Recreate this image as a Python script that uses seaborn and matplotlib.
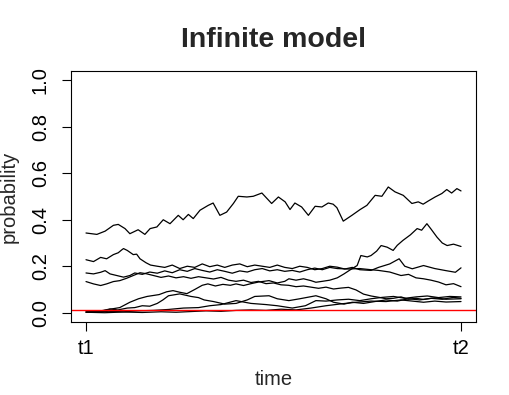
import pandas as pd
import matplotlib
matplotlib.use("Agg")
import matplotlib.pyplot as plt
import seaborn as sns

# time runs from t1 (0) to t2 (1)
time_a = [0.000, 0.029, 0.051, 0.073, 0.086, 0.104, 0.117, 0.139, 0.157, 0.171,
          0.189, 0.206, 0.224, 0.246, 0.259, 0.273, 0.286, 0.304, 0.326, 0.339,
          0.357, 0.375, 0.393, 0.406, 0.429, 0.446, 0.469, 0.495, 0.513, 0.531,
          0.544, 0.557, 0.575, 0.593, 0.611, 0.629, 0.646, 0.659, 0.669, 0.686,
          0.709, 0.731, 0.749, 0.771, 0.789, 0.806, 0.824, 0.846, 0.869, 0.886,
          0.899, 0.913, 0.931, 0.949, 0.962, 0.975, 0.989, 1.000]
prob_a = [0.343, 0.337, 0.351, 0.376, 0.380, 0.362, 0.340, 0.357, 0.337, 0.362,
          0.369, 0.400, 0.383, 0.419, 0.400, 0.423, 0.405, 0.441, 0.462, 0.472,
          0.419, 0.433, 0.470, 0.501, 0.498, 0.501, 0.515, 0.470, 0.498, 0.477,
          0.444, 0.472, 0.455, 0.419, 0.458, 0.455, 0.472, 0.467, 0.452, 0.394,
          0.419, 0.444, 0.462, 0.505, 0.501, 0.541, 0.520, 0.505, 0.470, 0.477,
          0.467, 0.481, 0.498, 0.513, 0.530, 0.515, 0.534, 0.524]

time_b = [0.000, 0.020, 0.039, 0.055, 0.073, 0.086, 0.095, 0.100, 0.110, 0.126,
          0.135, 0.144, 0.160, 0.172, 0.190, 0.210, 0.230, 0.250, 0.270, 0.290,
          0.310, 0.330, 0.350, 0.370, 0.390, 0.410, 0.430, 0.450, 0.470, 0.490,
          0.510, 0.530, 0.550, 0.570, 0.590, 0.610, 0.630, 0.650, 0.670, 0.690,
          0.710, 0.730, 0.760, 0.780, 0.810, 0.835, 0.850, 0.870, 0.900, 0.930,
          0.960, 0.985, 1.000]
prob_b = [0.228, 0.220, 0.238, 0.232, 0.250, 0.258, 0.270, 0.276, 0.268, 0.250,
          0.252, 0.232, 0.215, 0.205, 0.200, 0.195, 0.205, 0.190, 0.200, 0.195,
          0.210, 0.198, 0.205, 0.195, 0.205, 0.210, 0.198, 0.205, 0.200, 0.195,
          0.205, 0.195, 0.190, 0.200, 0.195, 0.185, 0.190, 0.200, 0.196, 0.188,
          0.195, 0.185, 0.182, 0.195, 0.210, 0.232, 0.200, 0.189, 0.203, 0.190,
          0.181, 0.174, 0.193]

time_c = [0.000, 0.020, 0.039, 0.051, 0.064, 0.082, 0.100, 0.117, 0.130, 0.150,
          0.170, 0.190, 0.210, 0.230, 0.250, 0.270, 0.290, 0.310, 0.330, 0.350,
          0.370, 0.390, 0.410, 0.430, 0.450, 0.470, 0.490, 0.510, 0.530, 0.550,
          0.570, 0.590, 0.610, 0.630, 0.650, 0.670, 0.700, 0.730, 0.760, 0.780,
          0.810, 0.840, 0.860, 0.880, 0.900, 0.920, 0.940, 0.960, 0.980, 1.000]
prob_c = [0.171, 0.167, 0.174, 0.181, 0.167, 0.160, 0.153, 0.160, 0.171, 0.165,
          0.175, 0.170, 0.180, 0.172, 0.185, 0.178, 0.190, 0.182, 0.175, 0.185,
          0.178, 0.170, 0.180, 0.175, 0.185, 0.190, 0.180, 0.185, 0.178, 0.182,
          0.175, 0.185, 0.192, 0.185, 0.195, 0.190, 0.188, 0.190, 0.185, 0.182,
          0.175, 0.160, 0.165, 0.150, 0.146, 0.140, 0.132, 0.120, 0.125, 0.112]

time_d = [0.000, 0.020, 0.039, 0.055, 0.073, 0.090, 0.108, 0.126, 0.144, 0.160,
          0.180, 0.200, 0.220, 0.240, 0.260, 0.280, 0.300, 0.320, 0.340, 0.360,
          0.380, 0.400, 0.420, 0.440, 0.460, 0.480, 0.500, 0.520, 0.540, 0.560,
          0.580, 0.600, 0.620, 0.640, 0.660, 0.680, 0.700, 0.720, 0.740, 0.760,
          0.785, 0.800, 0.820, 0.840, 0.860, 0.880, 0.900, 0.930, 0.960, 1.000]
prob_d = [0.134, 0.124, 0.117, 0.124, 0.134, 0.138, 0.148, 0.160, 0.172, 0.168,
          0.160, 0.152, 0.158, 0.150, 0.155, 0.148, 0.155, 0.150, 0.145, 0.152,
          0.140, 0.135, 0.140, 0.130, 0.135, 0.125, 0.128, 0.120, 0.118, 0.112,
          0.115, 0.110, 0.105, 0.110, 0.102, 0.106, 0.109, 0.098, 0.080, 0.072,
          0.065, 0.060, 0.062, 0.068, 0.058, 0.062, 0.057, 0.064, 0.058, 0.060]

time_e = [0.000, 0.037, 0.064, 0.090, 0.117, 0.140, 0.163, 0.195, 0.215, 0.232,
          0.250, 0.269, 0.290, 0.310, 0.325, 0.345, 0.365, 0.385, 0.400, 0.420,
          0.440, 0.460, 0.488, 0.510, 0.530, 0.541, 0.560, 0.580, 0.600, 0.613,
          0.630, 0.650, 0.670, 0.688, 0.705, 0.723, 0.733, 0.750, 0.760, 0.775,
          0.787, 0.803, 0.819, 0.830, 0.845, 0.865, 0.883, 0.895, 0.909, 0.920,
          0.936, 0.950, 0.963, 0.980, 1.000]
prob_e = [0.002, 0.005, 0.015, 0.022, 0.045, 0.060, 0.070, 0.078, 0.090, 0.095,
          0.088, 0.082, 0.100, 0.118, 0.124, 0.115, 0.122, 0.118, 0.124, 0.117,
          0.125, 0.132, 0.138, 0.128, 0.135, 0.146, 0.140, 0.146, 0.138, 0.131,
          0.135, 0.140, 0.150, 0.167, 0.185, 0.203, 0.246, 0.240, 0.246, 0.265,
          0.289, 0.282, 0.268, 0.290, 0.311, 0.335, 0.362, 0.355, 0.383, 0.360,
          0.325, 0.300, 0.289, 0.295, 0.285]

time_f = [0.000, 0.040, 0.064, 0.085, 0.110, 0.130, 0.150, 0.170, 0.190, 0.205,
          0.220, 0.250, 0.280, 0.300, 0.315, 0.340, 0.370, 0.400, 0.430, 0.450,
          0.488, 0.510, 0.541, 0.570, 0.613, 0.640, 0.660, 0.688, 0.710, 0.740,
          0.770, 0.800, 0.830, 0.860, 0.890, 0.920, 0.950, 0.980, 1.000]
prob_f = [0.004, 0.008, 0.016, 0.012, 0.020, 0.022, 0.030, 0.028, 0.040, 0.055,
          0.073, 0.081, 0.070, 0.065, 0.055, 0.048, 0.037, 0.040, 0.055, 0.070,
          0.073, 0.060, 0.052, 0.060, 0.073, 0.060, 0.045, 0.037, 0.045, 0.040,
          0.048, 0.055, 0.050, 0.060, 0.055, 0.062, 0.058, 0.066, 0.062]

time_g = [0.000, 0.030, 0.060, 0.100, 0.140, 0.180, 0.220, 0.260, 0.300, 0.330,
          0.360, 0.400, 0.440, 0.480, 0.510, 0.550, 0.585, 0.613, 0.640, 0.670,
          0.700, 0.730, 0.760, 0.790, 0.820, 0.850, 0.880, 0.910, 0.940, 0.970,
          1.000]
prob_g = [0.008, 0.004, 0.006, 0.004, 0.008, 0.010, 0.014, 0.020, 0.022, 0.030,
          0.035, 0.052, 0.040, 0.035, 0.030, 0.020, 0.030, 0.052, 0.050, 0.055,
          0.058, 0.052, 0.060, 0.066, 0.070, 0.062, 0.068, 0.072, 0.065, 0.070,
          0.068]

time_h = [0.000, 0.050, 0.100, 0.150, 0.200, 0.240, 0.280, 0.320, 0.360, 0.400,
          0.440, 0.480, 0.520, 0.560, 0.600, 0.640, 0.680, 0.720, 0.760, 0.800,
          0.840, 0.870, 0.900, 0.930, 0.960, 1.000]
prob_h = [0.002, 0.000, 0.003, 0.001, 0.004, 0.002, 0.005, 0.008, 0.006, 0.010,
          0.012, 0.010, 0.015, 0.012, 0.020, 0.030, 0.038, 0.045, 0.050, 0.048,
          0.055, 0.050, 0.045, 0.050, 0.046, 0.048]

threshold = 0.01
x_tick_labels = ["t1", "t2"]
y_ticks = [0.0, 0.2, 0.4, 0.6, 0.8, 1.0]

runs = {
    "a": (time_a, prob_a), "b": (time_b, prob_b), "c": (time_c, prob_c),
    "d": (time_d, prob_d), "e": (time_e, prob_e), "f": (time_f, prob_f),
    "g": (time_g, prob_g), "h": (time_h, prob_h),
}
df = pd.concat(
    [pd.DataFrame({"time": t, "probability": p, "run": k}) for k, (t, p) in runs.items()],
    ignore_index=True,
)

sns.set_style("ticks")
plt.rcParams["font.family"] = ["Liberation Sans", "DejaVu Sans"]

fig = plt.figure(figsize=(5.09, 3.95), dpi=100)
ax = fig.add_axes([0.1395, 0.1848, 0.7957, 0.6354])

sns.lineplot(data=df, x="time", y="probability", units="run", estimator=None,
             color="black", linewidth=0.9, ax=ax)
ax.axhline(threshold, color="red", linewidth=1.0)

ax.set_xlim(-0.04, 1.04)
ax.set_ylim(-0.04, 1.04)
ax.set_xticks([0, 1])
ax.set_xticklabels(x_tick_labels)
ax.set_yticks(y_ticks)
ax.set_yticklabels([f"{v:.1f}" for v in y_ticks], rotation=90, va="center")

for s in ax.spines.values():
    s.set_visible(True)
    s.set_color("black")
    s.set_linewidth(0.8)
ax.tick_params(axis="both", direction="out", length=6.7, width=0.8,
               colors="black", labelsize=14.5)
ax.tick_params(axis="x", pad=5.5)
ax.tick_params(axis="y", pad=8.5)

ax.set_title("Infinite model", fontsize=20.5, fontweight="bold", pad=17.5)
ax.set_xlabel("time", fontsize=14.5, labelpad=9)
ax.set_ylabel("probability", fontsize=14.5, labelpad=8.5)

fig.savefig("out.png", dpi=100)
